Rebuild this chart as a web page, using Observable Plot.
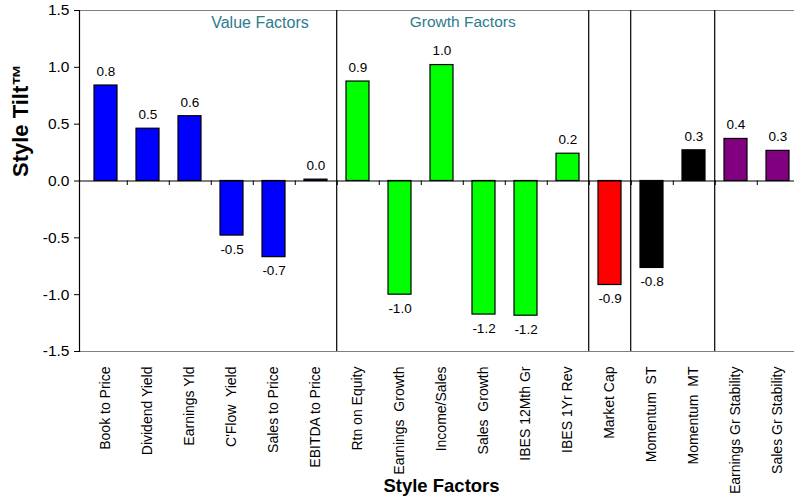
<!DOCTYPE html>
<html>
<head>
<meta charset="utf-8">
<script src="https://cdn.jsdelivr.net/npm/d3@7"></script>
<script src="https://cdn.jsdelivr.net/npm/@observablehq/plot@0.6"></script>
<style>
  html, body { margin: 0; padding: 0; background: #fff; overflow: hidden; }
  #chart svg { display: block; max-width: none !important; height: 501px !important; }
</style>
</head>
<body>
<div id="chart"></div>
<script>
// Style factors, grouped by family
const factors = [
  "Book to Price", "Dividend Yield", "Earnings Yld", "C'Flow  Yield", "Sales to Price", "EBITDA to Price",
  "Rtn on Equity", "Earnings  Growth", "Income/Sales", "Sales  Growth", "IBES 12Mth Gr", "IBES 1Yr Rev",
  "Market Cap",
  "Momentum  ST", "Momentum  MT",
  "Earnings Gr Stability", "Sales Gr Stability"
];
const tilts = [
  0.84, 0.46, 0.57, -0.48, -0.67, 0.012,
  0.875, -1.0, 1.02, -1.175, -1.185, 0.24,
  -0.915,
  -0.765, 0.27,
  0.37, 0.265
];
const groups = [
  "Value", "Value", "Value", "Value", "Value", "Value",
  "Growth", "Growth", "Growth", "Growth", "Growth", "Growth",
  "Size",
  "Momentum", "Momentum",
  "Stability", "Stability"
];
const groupNames = ["Value", "Growth", "Size", "Momentum", "Stability"];
const groupColors = ["#0000ff", "#00ff00", "#ff0000", "#000000", "#800080"];
// first factor of each family after the first one: a divider goes on its left
const groupStarts = ["Rtn on Equity", "Market Cap", "Momentum  ST", "Earnings Gr Stability"];
const yTicks = [-1.5, -1.0, -0.5, 0.0, 0.5, 1.0, 1.5];
const sectionLabels = ["Value Factors", "Growth Factors"];

const rows = factors.map((f, i) => ({factor: f, tilt: tilts[i], group: groups[i]}));

const W = 810, H = 501;
const mL = 79, mR = 7, mT = 10, mB = 150;
const step = (W - mL - mR) / factors.length;
const fmt = v => v.toFixed(1);
const narrow = "'Liberation Sans Narrow', 'Arial Narrow', 'Liberation Sans', Arial, sans-serif";
const sans = "'Liberation Sans', Arial, sans-serif";

const chart = Plot.plot({
  width: W,
  height: H,
  marginLeft: mL,
  marginRight: mR,
  marginTop: mT,
  marginBottom: mB,
  style: {fontFamily: sans, background: "#fff", overflow: "visible"},
  x: {domain: factors, paddingInner: 0.46, paddingOuter: 0.23, label: null},
  y: {domain: [-1.5, 1.5], label: null},
  color: {domain: groupNames, range: groupColors},
  marks: [
    // plot area border (top and bottom)
    Plot.ruleY([-1.5, 1.5], {stroke: "#808080", strokeWidth: 1}),
    // family dividers
    Plot.ruleX(groupStarts, {x: d => d, dx: -step / 2, stroke: "#000", strokeWidth: 1.2}),
    // bars
    Plot.barY(rows, {x: "factor", y: "tilt", fill: "group", stroke: "#000", strokeWidth: 1.2}),
    // zero line and category boundary ticks
    Plot.ruleY([0], {stroke: "#000", strokeWidth: 1.2}),
    Plot.ruleX(factors.slice(0, -1), {x: d => d, dx: step / 2, y1: 0, y2: -0.04, stroke: "#000"}),
    // value labels
    Plot.text(rows.filter(d => d.tilt >= 0), {x: "factor", y: "tilt", text: d => fmt(d.tilt), dy: -14, fontSize: 13.5, letterSpacing: -0.6, fill: "#000"}),
    Plot.text(rows.filter(d => d.tilt < 0), {x: "factor", y: "tilt", text: d => fmt(d.tilt), dy: 14, fontSize: 13.5, letterSpacing: -0.6, fill: "#000"}),
    // family captions
    Plot.text([sectionLabels[0]], {x: () => "C'Flow  Yield", y: 1.5, dx: 28, dy: 12, text: d => d, fontSize: 16, fontFamily: narrow, fill: "#2c7c8c"}),
    Plot.text([sectionLabels[1]], {x: () => "Sales  Growth", y: 1.5, dx: -step / 2, dy: 12, text: d => d, fontSize: 15.5, fontFamily: narrow, fill: "#2c7c8c"}),
    // axes
    Plot.axisY({ticks: yTicks, tickFormat: fmt, tickSize: 5, tickPadding: 5, fontSize: 15.5, label: null, stroke: "#000"}),
    Plot.frame({anchor: "left", stroke: "#000", strokeWidth: 1.2}),
    Plot.axisX({tickSize: 0, tickRotate: -90, tickPadding: 15, fontSize: 14, fontFamily: narrow, label: null}),
    // axis titles
    Plot.text(["Style Tilt™"], {frameAnchor: "left", rotate: -90, dx: -59, dy: -4, text: d => d, fontSize: 22, fontWeight: "bold", fill: "#000"}),
    Plot.text(["Style Factors"], {frameAnchor: "bottom", dy: 140, text: d => d, fontSize: 18.5, fontWeight: "bold", fontFamily: narrow, fill: "#000"})
  ]
});

document.getElementById("chart").appendChild(chart);
</script>
</body>
</html>
